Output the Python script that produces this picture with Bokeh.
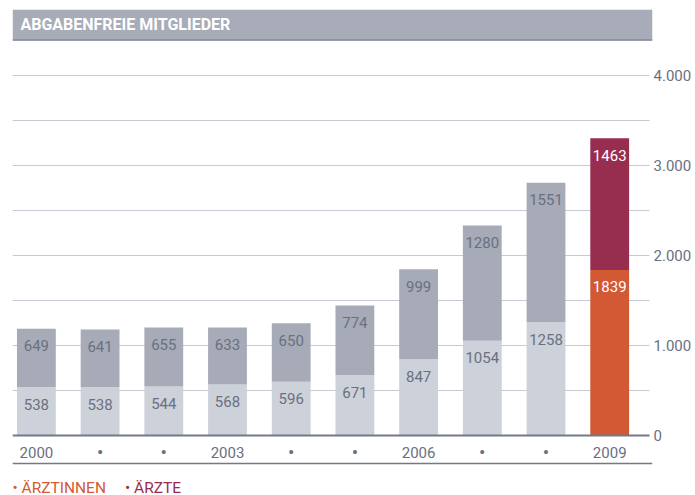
from bokeh.plotting import figure
from bokeh.models import Range1d, LinearAxis, FixedTicker, ColumnDataSource
from bokeh.core.properties import value
from bokeh.embed import file_html
from bokeh.resources import INLINE

# ---- data ----
years = ["2000", "2001", "2002", "2003", "2004", "2005", "2006", "2007", "2008", "2009"]
tick_labels = ["2000", "•", "•", "2003", "•", "•", "2006", "•", "•", "2009"]
aerztinnen = [538, 538, 544, 568, 596, 671, 847, 1054, 1258, 1839]
aerzte = [649, 641, 655, 633, 650, 774, 999, 1280, 1551, 1463]
y_ticks = [0, 1000, 2000, 3000, 4000]
grid_ticks = [0, 500, 1000, 1500, 2000, 2500, 3000, 3500, 4000]
title_text = "ABGABENFREIE MITGLIEDER"
legend_labels = ["• ÄRZTINNEN", "• ÄRZTE"]

# ---- styles ----
FONT = "Roboto"
LIGHT = "#cdd1da"
DARK = "#a6abb7"
ORANGE = "#d35834"
MAROON = "#972d4f"
TXT = "#6a7080"
GRID = "#c6cad2"
AXIS = "#737a86"
TITLE_BG = "#a7acb8"

n = len(years)
xs = list(range(n))
last = n - 1
low_col = [ORANGE if i == last else LIGHT for i in xs]
up_col = [MAROON if i == last else DARK for i in xs]
txt_col = ["white" if i == last else TXT for i in xs]
tops = [a + b for a, b in zip(aerztinnen, aerzte)]
tick_size = ["15px" if t != "•" else "19px" for t in tick_labels]

PX = 0.09            # pixels per unit on y
OFF = 17 / PX        # label offset below segment top

src = ColumnDataSource(dict(
    x=xs, low=aerztinnen, up=aerzte, top=tops,
    low_col=low_col, up_col=up_col, txt_col=txt_col,
    low_txt=[str(v) for v in aerztinnen], up_txt=[str(v) for v in aerzte],
    low_y=[v - OFF for v in aerztinnen], up_y=[t - OFF for t in tops],
    tick=tick_labels, tick_size=tick_size,
))

x0, x1 = -0.375, -0.375 + 643 / 64
y_top = 426 / PX
y_bot = -60 / PX

p = figure(width=694, height=495, output_backend="svg", toolbar_location=None,
           x_range=Range1d(x0, x1), y_range=Range1d(y_bot, y_top),
           min_border_left=12, min_border_right=0, min_border_top=9, min_border_bottom=0)
p.xaxis.visible = False
p.yaxis.visible = False
p.xgrid.visible = False
p.ygrid.visible = False
p.outline_line_color = None
p.background_fill_color = "white"
p.border_fill_color = "white"

# grid lines (non-zero)
gx_end = (652 - 36) / 64
p.segment(x0=x0, x1=gx_end, y0=grid_ticks[1:], y1=grid_ticks[1:], line_color=GRID, line_width=1)

# title bar
p.quad(left=x0, right=(655 - 36) / 64, bottom=395 / PX, top=y_top, fill_color=TITLE_BG, line_color=None)
p.segment(x0=x0, x1=(655 - 36) / 64, y0=395.5 / PX, y1=395.5 / PX, line_color="#848a97", line_width=1.5)
p.text(x=[x0 + 8 / 64], y=[411 / PX], text=[title_text], text_font=value(FONT),
       text_font_size="16px", text_font_style="bold", text_color="white",
       text_baseline="middle", text_align="left")

# bars
W = 39 / 64
p.vbar(x="x", bottom=0, top="low", width=W, fill_color="low_col", line_color=None, source=src)
p.vbar(x="x", bottom="low", top="top", width=W, fill_color="up_col", line_color=None, source=src)

# bar labels
p.text(x="x", y="low_y", text="low_txt", text_color="txt_col", source=src,
       text_font=value(FONT), text_font_size="15px", text_align="center", text_baseline="middle")
p.text(x="x", y="up_y", text="up_txt", text_color="txt_col", source=src,
       text_font=value(FONT), text_font_size="15px", text_align="center", text_baseline="middle")

# baseline and lower line
p.segment(x0=x0, x1=gx_end, y0=0, y1=0, line_color=AXIS, line_width=2)
p.segment(x0=x0, x1=(655 - 36) / 64, y0=-28 / PX, y1=-28 / PX, line_color=AXIS, line_width=1.5)

# x labels
p.text(x="x", y=-17 / PX, text="tick", source=src, text_color=TXT,
       text_font=value(FONT), text_font_size="tick_size", text_align="center", text_baseline="middle")

# legend
p.text(x=[x0, (125 - 36) / 64], y=[-52 / PX, -52 / PX], text=legend_labels,
       text_color=[ORANGE, MAROON], text_font=value(FONT), text_font_size="15.5px",
       text_align="left", text_baseline="middle")

# right axis
ax = LinearAxis(ticker=FixedTicker(ticks=y_ticks),
                major_label_overrides={t: (f"{t:,}".replace(",", ".")) for t in y_ticks})
ax.axis_line_color = None
ax.major_tick_line_color = None
ax.minor_tick_line_color = None
ax.major_tick_in = 0
ax.major_tick_out = 0
ax.minor_tick_in = 0
ax.minor_tick_out = 0
ax.major_label_standoff = 1
ax.major_label_text_font = FONT
ax.major_label_text_font_size = "15px"
ax.major_label_text_color = TXT
p.add_layout(ax, "right")

open("out.html", "w").write(file_html(p, INLINE))
